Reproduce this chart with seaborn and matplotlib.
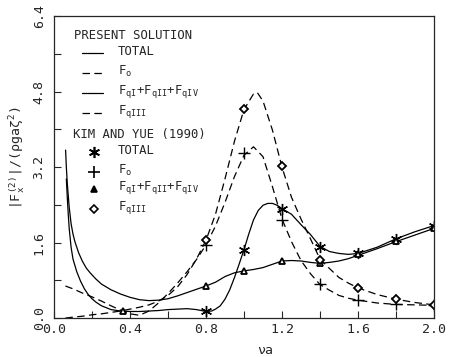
import matplotlib
matplotlib.use('Agg')

import numpy as np
import pandas as pd
import matplotlib.pyplot as plt
import seaborn as sns

# present solution curves
x_total = [0.065, 0.07, 0.075, 0.08, 0.09, 0.10, 0.12, 0.14, 0.16, 0.18, 0.20, 0.22, 0.25, 0.30,
           0.35, 0.40, 0.45, 0.50, 0.55, 0.60, 0.65, 0.70, 0.75, 0.80, 0.83, 0.85, 0.875, 0.90,
           0.925, 0.95, 0.975, 1.00, 1.025, 1.05, 1.075, 1.10, 1.125, 1.15, 1.175, 1.20, 1.25,
           1.30, 1.35, 1.40, 1.45, 1.50, 1.55, 1.60, 1.70, 1.80, 1.90, 2.00]
y_total = [2.95, 2.55, 2.20, 1.90, 1.50, 1.25, 0.98, 0.78, 0.62, 0.50, 0.41, 0.34, 0.26, 0.18,
           0.15, 0.14, 0.14, 0.15, 0.16, 0.18, 0.19, 0.20, 0.18, 0.14, 0.15, 0.19, 0.26, 0.40,
           0.60, 0.86, 1.15, 1.45, 1.78, 2.08, 2.28, 2.39, 2.43, 2.43, 2.39, 2.32, 2.20,
           1.98, 1.77, 1.52, 1.41, 1.37, 1.35, 1.37, 1.50, 1.68, 1.83, 1.96]

x_fq124 = [0.061, 0.065, 0.07, 0.08, 0.09, 0.10, 0.11, 0.13, 0.15, 0.17, 0.19, 0.22, 0.25, 0.30,
           0.35, 0.40, 0.45, 0.50, 0.55, 0.60, 0.65, 0.70, 0.75, 0.80, 0.85, 0.90, 0.95, 1.00,
           1.05, 1.10, 1.15, 1.20, 1.25, 1.30, 1.35, 1.40, 1.45, 1.50, 1.55, 1.60, 1.70, 1.80,
           1.90, 2.00]
y_fq124 = [3.56, 3.20, 2.85, 2.35, 2.00, 1.78, 1.62, 1.38, 1.20, 1.06, 0.96, 0.83, 0.72, 0.60,
           0.51, 0.44, 0.39, 0.37, 0.38, 0.41, 0.47, 0.54, 0.61, 0.68, 0.76, 0.88, 0.96, 1.00,
           1.03, 1.07, 1.14, 1.21, 1.22, 1.21, 1.18, 1.16, 1.18, 1.21, 1.26, 1.33, 1.47, 1.62,
           1.76, 1.90]

x_f0 = [0.06, 0.10, 0.15, 0.20, 0.25, 0.30, 0.35, 0.40, 0.45, 0.50, 0.55, 0.60, 0.65, 0.70,
        0.75, 0.80, 0.85, 0.90, 0.95, 1.00, 1.05, 1.10, 1.15, 1.20, 1.25, 1.30, 1.35, 1.40,
        1.45, 1.50, 1.55, 1.60, 1.70, 1.80, 1.90, 2.00]
y_f0 = [0.68, 0.62, 0.53, 0.45, 0.36, 0.26, 0.17, 0.09, 0.06, 0.15, 0.32, 0.52, 0.74, 0.98,
        1.24, 1.55, 1.95, 2.45, 3.00, 3.45, 3.63, 3.42, 2.78, 2.10, 1.62, 1.22, 0.94, 0.71,
        0.59, 0.48, 0.42, 0.38, 0.32, 0.29, 0.28, 0.27]

x_fq3 = [0.06, 0.10, 0.15, 0.20, 0.25, 0.30, 0.35, 0.40, 0.45, 0.50, 0.55, 0.60, 0.65, 0.70,
         0.75, 0.80, 0.85, 0.90, 0.95, 1.00, 1.05, 1.07, 1.10, 1.15, 1.20, 1.25, 1.30, 1.35,
         1.40, 1.45, 1.50, 1.55, 1.60, 1.70, 1.80, 1.90, 2.00]
y_fq3 = [0.00, 0.02, 0.04, 0.07, 0.09, 0.12, 0.15, 0.19, 0.23, 0.28, 0.36, 0.48, 0.66, 0.92,
         1.25, 1.65, 2.20, 2.95, 3.75, 4.42, 4.75, 4.78, 4.60, 3.98, 3.20, 2.56, 2.10, 1.68,
         1.25, 1.05, 0.86, 0.74, 0.64, 0.50, 0.40, 0.33, 0.28]

# Kim and Yue (1990) points
kim_x = [0.8, 1.0, 1.2, 1.4, 1.6, 1.8, 2.0]
kim_total = [0.14, 1.45, 2.32, 1.51, 1.37, 1.67, 1.95]
kim_f0 = [1.55, 3.50, 2.08, 0.73, 0.38, 0.29, 0.27]
kim_fq124_x = [0.365, 0.8, 1.0, 1.2, 1.4, 1.6, 1.8, 2.0]
kim_fq124 = [0.15, 0.68, 1.00, 1.21, 1.16, 1.35, 1.64, 1.90]
kim_fq3 = [1.65, 4.44, 3.22, 1.24, 0.64, 0.40, 0.27]

sns.set_style('ticks')
plt.rcParams['font.family'] = ['DejaVu Sans Mono']
plt.rcParams['mathtext.fontset'] = 'custom'
plt.rcParams['mathtext.rm'] = 'DejaVu Sans Mono'
plt.rcParams['mathtext.it'] = 'DejaVu Sans Mono'
plt.rcParams['mathtext.default'] = 'regular'

fig = plt.figure(figsize=(4.5, 3.57), dpi=100)
ax = fig.add_axes([0.12, 0.109, 0.8444, 0.846])

lw = 0.9
dash = (0, (6, 3.5))
curves = [(x_total, y_total, '-'), (x_fq124, y_fq124, '-'),
          (x_f0, y_f0, dash), (x_fq3, y_fq3, dash)]
for xs, ys, ls in curves:
    df = pd.DataFrame({'x': xs, 'y': ys})
    sns.lineplot(data=df, x='x', y='y', ax=ax, color='black', lw=lw, linestyle=ls,
                 estimator=None, sort=False)

mk = dict(color='black', linestyle='', estimator=None, sort=False, mec='black')
sns.lineplot(x=kim_x, y=kim_total, ax=ax, marker=(6, 2, 0), markersize=8, mew=1.0, **mk)
sns.lineplot(x=kim_x, y=kim_f0, ax=ax, marker='+', markersize=8, mew=1.0, **mk)
sns.lineplot(x=kim_fq124_x, y=kim_fq124, ax=ax, marker='^', markersize=5, mew=1.3,
             mfc='white', **mk)
sns.lineplot(x=kim_x, y=kim_fq3, ax=ax, marker='D', markersize=4.5, mew=1.3,
             mfc='white', **mk)

ax.set_xlim(0, 2.0)
ax.set_ylim(0, 6.4)
ax.set_xticks(np.arange(0, 2.01, 0.4))
ax.set_xticks(np.arange(0.2, 2.0, 0.4), minor=True)
ax.set_yticks(np.arange(0, 6.41, 1.6))
ax.set_yticks(np.arange(0.8, 6.4, 1.6), minor=True)
ax.xaxis.set_major_formatter(matplotlib.ticker.FormatStrFormatter('%.1f'))
ax.yaxis.set_major_formatter(matplotlib.ticker.FormatStrFormatter('%.1f'))
ax.tick_params(which='both', direction='in', length=5, width=0.8, labelsize=9.5,
               top=False, right=False)
ax.tick_params(axis='y', pad=6)
for lab in ax.get_yticklabels():
    lab.set_rotation(90)
    lab.set_va('center')
for s in ax.spines.values():
    s.set_visible(True)
    s.set_linewidth(0.9)

ax.set_xlabel('νa', fontsize=9.5)
ax.xaxis.set_label_coords(0.555, -0.085)
ax.set_ylabel('|F$_x^{(2)}$|/(ρgaζ$^2$)', fontsize=9.5)
ax.yaxis.set_label_coords(-0.07, 0.53)

# legend drawn by hand
fs = 8.8
tr = ax.transAxes
ax.text(0.053, 0.937, 'PRESENT SOLUTION', transform=tr, fontsize=fs, va='center')
rows = [('-', 0.877, 'TOTAL'), (dash, 0.812, 'F$_o$'),
        ('-', 0.744, 'F$_{qI}$+F$_{qII}$+F$_{qIV}$'), (dash, 0.678, 'F$_{qIII}$')]
for ls, yy, txt in rows:
    ax.plot([0.074, 0.129], [yy, yy], transform=tr, color='black', lw=lw, linestyle=ls)
    ax.text(0.168, yy + 0.005, txt, transform=tr, fontsize=fs, va='center')
ax.text(0.05, 0.609, 'KIM AND YUE (1990)', transform=tr, fontsize=fs, va='center')
mrows = [((6, 2, 0), 0.551, 'TOTAL', 8, 'black'), ('+', 0.484, 'F$_o$', 8, 'black'),
         ('^', 0.426, 'F$_{qI}$+F$_{qII}$+F$_{qIV}$', 5, 'black'),
         ('D', 0.36, 'F$_{qIII}$', 4.5, 'white')]
for m, yy, txt, ms, fc in mrows:
    ax.plot([0.105], [yy], transform=tr, color='black', marker=m, markersize=ms, mew=1.2,
            mfc=fc, linestyle='')
    ax.text(0.168, yy + 0.005, txt, transform=tr, fontsize=fs, va='center')

fig.savefig('out.png', dpi=100)
